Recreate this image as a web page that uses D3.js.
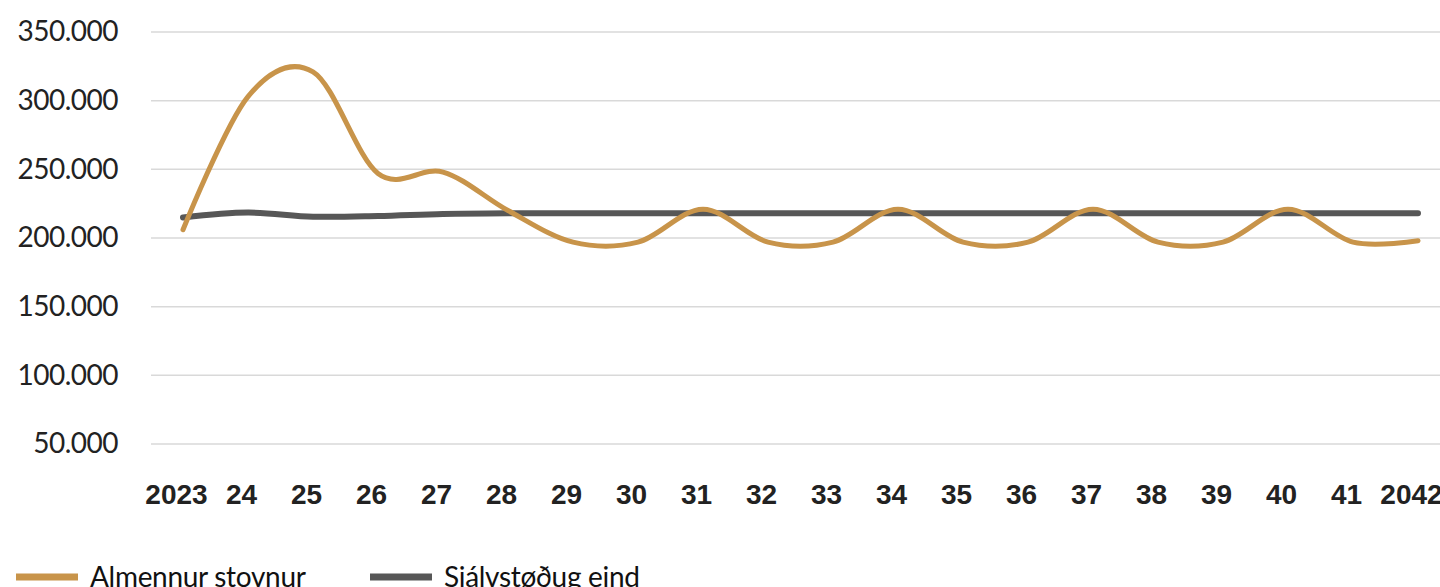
<!DOCTYPE html>
<html>
<head>
<meta charset="utf-8">
<script src="https://cdn.jsdelivr.net/npm/d3@7"></script>
<style>
	html, body { margin: 0; padding: 0; background: #fff; }
	.c-svg { width: 1440px; height: 587px; overflow: hidden; }
	.y_axis text { font-family: Lato, sans-serif; font-size: 28px; fill: #222; letter-spacing: -0.5px; }
	.x_axis text { font-family: "Liberation Sans", Arial, sans-serif; font-weight: bold; font-size: 28px; fill: #222; }
	.legend text { font-family: Lato, sans-serif; font-size: 28px; fill: #111; letter-spacing: -0.3px; }
</style>
</head>
<body>
<div class="c-svg"></div>
<script>
//DATA
//-------------------------------------------------------------------------

const years = d3.range(2023, 2043);
const yearLabels = ["2023", "24", "25", "26", "27", "28", "29", "30", "31", "32",
	"33", "34", "35", "36", "37", "38", "39", "40", "41", "2042"];

const almennur = [206000, 303000, 321000, 247000, 248000, 220000, 197000, 197000, 221000, 197000,
	197000, 221000, 197000, 197000, 221000, 197000, 197000, 221000, 197000, 198000];

const sjalvstodug = [215000, 218500, 215500, 216000, 217500, 218000, 218000, 218000, 218000, 218000,
	218000, 218000, 218000, 218000, 218000, 218000, 218000, 218000, 218000, 218000];

const yTicks = [50000, 100000, 150000, 200000, 250000, 300000, 350000];

const seriesNames = ["Almennur stovnur", "Sjálvstøðug eind"];
const seriesColors = ["#c8944a", "#575757"];


//INITIALISATION
//-------------------------------------------------------------------------

const opts = { width: 1440, height: 587 };

const svg = d3.select(".c-svg")
	.append("svg")
	.attr("width", opts.width)
	.attr("height", opts.height);

const x = d3.scalePoint()
	.domain(years)
	.range([183, 1418]);

const y = d3.scaleLinear()
	.domain([50000, 350000])
	.range([444, 32]);

//number format with dot as thousands separator
const fmt = d3.formatLocale({ decimal: ",", thousands: ".", grouping: [3], currency: ["", ""] }).format(",");


//GRID & AXIS
//-------------------------------------------------------------------------

svg.append("g")
	.attr("class", "grid")
	.selectAll("line")
	.data(yTicks)
	.join("line")
	.attr("x1", 151)
	.attr("x2", opts.width)
	.attr("y1", d => y(d))
	.attr("y2", d => y(d))
	.attr("stroke", "#d9d9d9")
	.attr("stroke-width", 1.5);

const yAxis = d3.axisLeft(y)
	.tickValues(yTicks)
	.tickFormat(fmt)
	.tickSize(0)
	.tickPadding(0);

svg.append("g")
	.attr("class", "axis y_axis")
	.attr("transform", "translate(118 0)")
	.call(yAxis)
	.call(g => g.select(".domain").remove());

const xAxis = d3.axisBottom(x)
	.tickFormat((d, i) => yearLabels[i])
	.tickSize(0)
	.tickPadding(0);

svg.append("g")
	.attr("class", "axis x_axis")
	.attr("transform", "translate(0 484)")
	.call(xAxis)
	.call(g => g.select(".domain").remove())
	.selectAll("text")
	.attr("dx", -7);


//LINES
//-------------------------------------------------------------------------

const line = d3.line()
	.x((d, i) => x(years[i]))
	.y(d => y(d))
	.curve(d3.curveCardinal.tension(0));

svg.append("path")
	.datum(sjalvstodug)
	.attr("d", line)
	.attr("fill", "none")
	.attr("stroke", seriesColors[1])
	.attr("stroke-width", 6)
	.attr("stroke-linecap", "round");

svg.append("path")
	.datum(almennur)
	.attr("d", line)
	.attr("fill", "none")
	.attr("stroke", seriesColors[0])
	.attr("stroke-width", 5)
	.attr("stroke-linecap", "round");


//LEGEND
//-------------------------------------------------------------------------

const legend = svg.append("g").attr("class", "legend");
const legendX = [16, 370];

const items = legend.selectAll("g")
	.data(seriesNames)
	.join("g")
	.attr("transform", (d, i) => `translate(${legendX[i]} 577)`);

items.append("line")
	.attr("x1", 0)
	.attr("x2", 62)
	.attr("stroke", (d, i) => seriesColors[i])
	.attr("stroke-width", 7);

items.append("text")
	.attr("x", 74)
	.attr("y", 10)
	.text(d => d);
</script>
</body>
</html>
